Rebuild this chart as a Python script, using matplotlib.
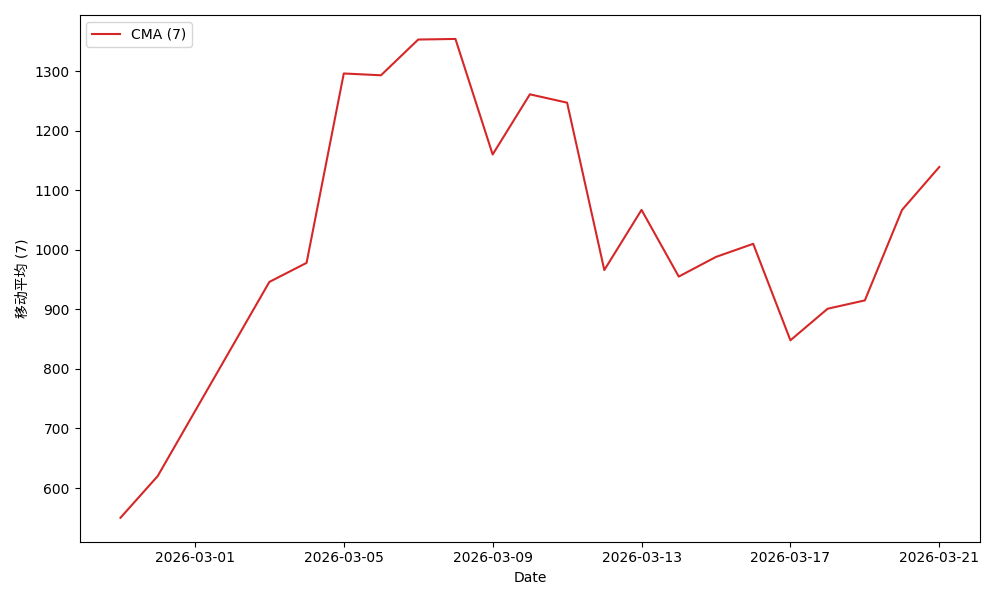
import matplotlib
matplotlib.use("Agg")
import matplotlib.pyplot as plt
import pandas as pd

plt.rcParams['font.family'] = ['DejaVu Sans', 'Noto Sans CJK SC']

# dates with a value (03-01 and 03-02 have no point, the line just joins across)
dates = ['2026-02-27', '2026-02-28', '2026-03-03', '2026-03-04', '2026-03-05',
         '2026-03-06', '2026-03-07', '2026-03-08', '2026-03-09', '2026-03-10',
         '2026-03-11', '2026-03-12', '2026-03-13', '2026-03-14', '2026-03-15',
         '2026-03-16', '2026-03-17', '2026-03-18', '2026-03-19', '2026-03-20',
         '2026-03-21']
cma = [550, 620, 946, 978, 1296, 1293, 1353, 1354, 1160, 1261,
       1247, 966, 1067, 955, 988, 1010, 848, 901, 915, 1067, 1139]

x = pd.to_datetime(dates)

fig, ax = plt.subplots(figsize=(10, 6), dpi=100)
ax.plot(x, cma, color='tab:red', label='CMA (7)')
ax.set_xlabel('Date')
ax.set_ylabel('移动平均 (7)')
ax.legend(loc='upper left')

fig.tight_layout()
fig.savefig('out.png')
